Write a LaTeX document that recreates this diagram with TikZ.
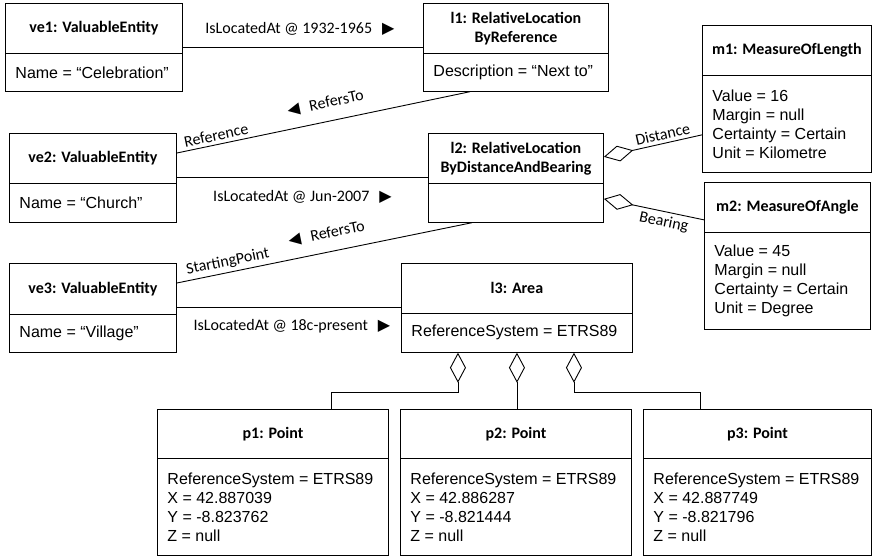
\documentclass[tikz,border=0pt]{standalone}
\usepackage{fontspec}
\setmainfont{Liberation Sans}
\newfontfamily\carlito{Carlito}
\newfontfamily\dejavu{DejaVu Sans}
\usetikzlibrary{shapes.multipart,arrows.meta}
\newcommand{\headpart}[3]{\parbox[c][#2][c]{#1}{\centering\carlito\bfseries #3}}
\newcommand{\bodypart}[3]{\parbox[c][#2][c]{#1}{\raggedright\leftskip=10pt #3}}
\newcommand{\rtri}{\hspace{10pt}{\dejavu ▶}}
\newcommand{\ltri}{{\dejavu ◀}\hspace{10pt}}
\tikzset{
  obj/.style={draw, line width=0.9pt, rectangle split, rectangle split parts=2, inner sep=0pt, anchor=north west},
  lnk/.style={line width=0.9pt},
  agg/.style={line width=0.9pt, {Diamond[open,length=30pt,width=16pt]}-},
  lbl/.style={font=\fontsize{16}{19}\selectfont\carlito}
}
\begin{document}
\begin{tikzpicture}[x=1pt, y=-1pt, font=\fontsize{16}{19}\selectfont]
  \useasboundingbox (0,0) rectangle (873,555);
  \node[obj] (ve1) at (5,3) {\headpart{177pt}{49pt}{ve1: ValuableEntity}\nodepart{two}\bodypart{177pt}{37pt}{Name = “Celebration”}};
  \node[obj] (l1) at (423,3) {\headpart{185pt}{49pt}{l1: RelativeLocation\\ByReference}\nodepart{two}\bodypart{185pt}{37pt}{Description = “Next to”}};
  \node[obj] (m1) at (702,25) {\headpart{169pt}{49pt}{m1: MeasureOfLength}\nodepart{two}\bodypart{169pt}{96pt}{Value = 16\\Margin = null\\Certainty = Certain\\Unit = Kilometre}};
  \node[obj] (ve2) at (9,133) {\headpart{167pt}{49pt}{ve2: ValuableEntity}\nodepart{two}\bodypart{167pt}{38pt}{Name = “Church”}};
  \node[obj] (l2) at (428,133) {\headpart{175pt}{49pt}{l2: RelativeLocation\\ByDistanceAndBearing}\nodepart{two}\bodypart{175pt}{38pt}{}};
  \node[obj] (m2) at (704,182) {\headpart{166pt}{49pt}{m2: MeasureOfAngle}\nodepart{two}\bodypart{166pt}{96pt}{Value = 45\\Margin = null\\Certainty = Certain\\Unit = Degree}};
  \node[obj] (ve3) at (9,263) {\headpart{167pt}{50pt}{ve3: ValuableEntity}\nodepart{two}\bodypart{167pt}{37pt}{Name = “Village”}};
  \node[obj] (l3) at (401,263) {\headpart{231pt}{49pt}{l3: Area}\nodepart{two}\bodypart{231pt}{38pt}{ReferenceSystem = ETRS89}};
  \node[obj] (p1) at (157,409) {\headpart{231pt}{48pt}{p1: Point}\nodepart{two}\bodypart{231pt}{96pt}{ReferenceSystem = ETRS89\\X = 42.887039\\Y = -8.823762\\Z = null}};
  \node[obj] (p2) at (400,409) {\headpart{231pt}{48pt}{p2: Point}\nodepart{two}\bodypart{231pt}{96pt}{ReferenceSystem = ETRS89\\X = 42.886287\\Y = -8.821444\\Z = null}};
  \node[obj] (p3) at (643,409) {\headpart{228pt}{48pt}{p3: Point}\nodepart{two}\bodypart{228pt}{96pt}{ReferenceSystem = ETRS89\\X = 42.887749\\Y = -8.821796\\Z = null}};

  \draw[lnk] (ve1.east) -- node[lbl, above=8pt, xshift=-3pt] {IsLocatedAt @ 1932-1965\rtri} (l1.west);
  \draw[lnk] (ve2.east) -- node[lbl, below=9pt] {IsLocatedAt @ Jun-2007\rtri} (l2.west);
  \draw[lnk] (ve3.east) -- node[lbl, below=8pt, xshift=3pt] {IsLocatedAt @ 18c-present\rtri} (l3.west);
  \draw[lnk] ([yshift=-20pt]ve2.north east) -- node[lbl, pos=0.14, above, sloped] {Reference}
    node[lbl, pos=0.52, above=8pt, sloped] {\ltri RefersTo} ([xshift=47pt]l1.south west);
  \draw[lnk] ([yshift=-20pt]ve3.north east) -- node[lbl, pos=0.18, above, sloped] {StartingPoint}
    node[lbl, pos=0.52, above=8pt, sloped] {\ltri RefersTo} ([xshift=44pt]l2.south west);

  \draw[agg] ([yshift=21pt]l2.east) -- node[lbl, pos=0.62, above, sloped] {Distance} ([yshift=-36pt]m1.west);
  \draw[agg] ([yshift=-21pt]l2.east) -- node[lbl, pos=0.62, below, sloped] {Bearing} ([yshift=36pt]m2.west);
  \draw[agg] ([xshift=-59pt]l3.south) -- ++(0,40) -| ([xshift=58pt]p1.north);
  \draw[agg] (l3.south) -- (l3.south |- p2.north);
  \draw[agg] ([xshift=57pt]l3.south) -- ++(0,40) -| ([xshift=-57pt]p3.north);
\end{tikzpicture}
\end{document}
